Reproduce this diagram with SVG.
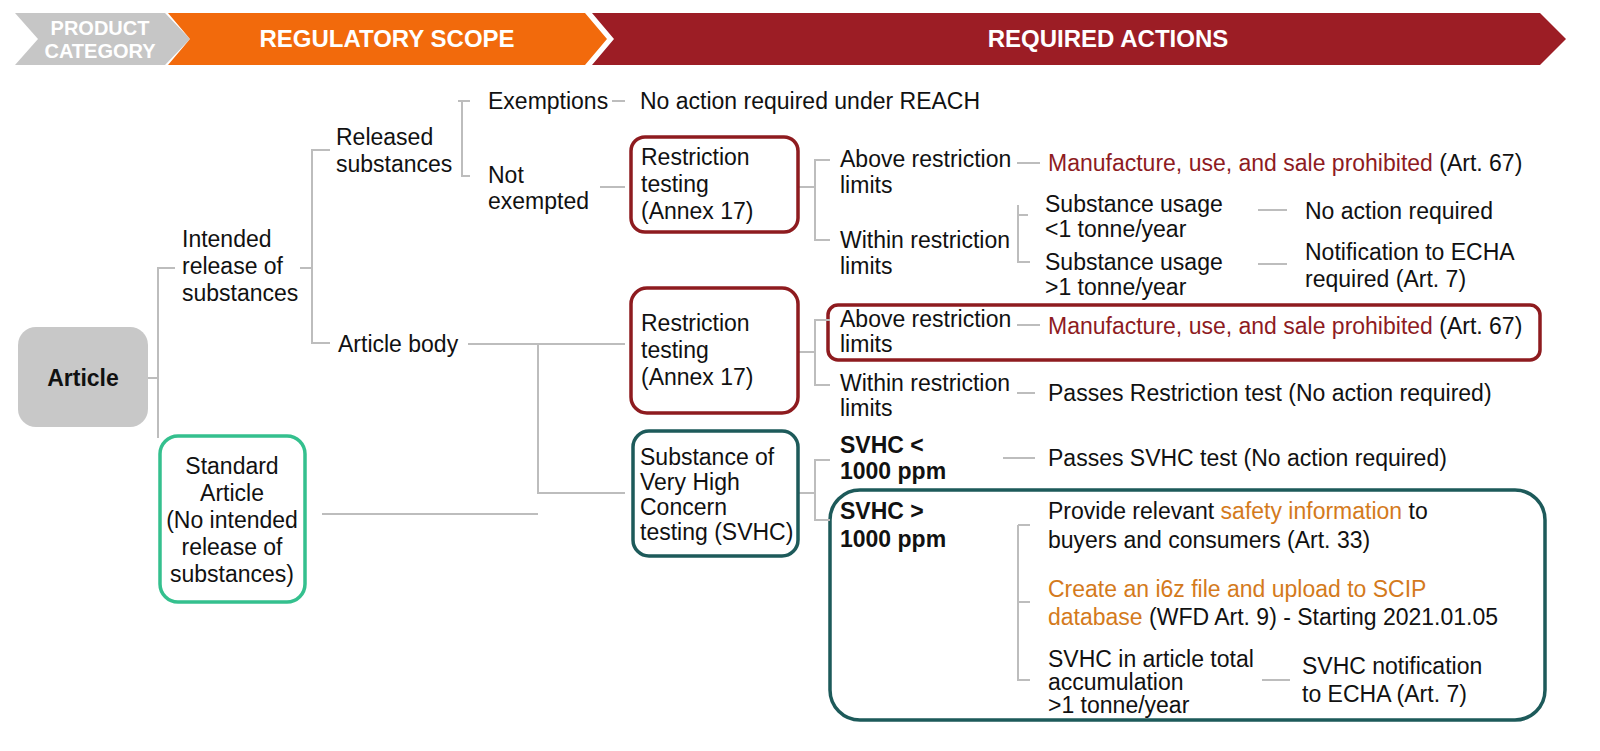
<svg xmlns="http://www.w3.org/2000/svg" width="1600" height="751" viewBox="0 0 1600 751">
<style>
text{font-family:"Liberation Sans",Arial,sans-serif;font-size:23px;fill:#111}
.hd{font-weight:bold;fill:#fff;font-size:24px;text-anchor:middle}
.c{text-anchor:middle}
.b{font-weight:bold}
.red{fill:#8e1b1f}
.or{fill:#d47a1c}
.ln{stroke:#bdbdbd;stroke-width:2;fill:none}
.rb{fill:#fff;stroke:#8e1b1f;stroke-width:3.5}
.tb{fill:#fff;stroke:#1d5a5a;stroke-width:3.5}
.nf{fill:none}
</style>
<rect width="1600" height="751" fill="#fff"/>
<g id="header">
<polygon points="15,13 165,13 190,39 165,65 15,65 38,39" fill="#c6c6c6"/>
<polygon points="168,13 585,13 607,39 585,65 168,65 190,39" fill="#f26a0c"/>
<polygon points="592,13 1540,13 1566,39 1540,65 592,65 614,39" fill="#9c1d25"/>
<text class="hd" x="100" y="35" style="font-size:20px">PRODUCT</text>
<text class="hd" x="100" y="58" style="font-size:20px">CATEGORY</text>
<text class="hd" x="387" y="47">REGULATORY SCOPE</text>
<text class="hd" x="1108" y="47">REQUIRED ACTIONS</text>
</g>
<g id="n-above2box"><rect class="rb nf" x="828" y="305" width="712" height="55" rx="10"/></g>
<g id="n-gtbox"><rect class="tb nf" x="830" y="490" width="715" height="230" rx="30"/></g>
<g id="connectors">
<path class="ln" d="M148,378H158M175,268H158V438M300,268H312M330,150H312V343H330M458,101H462M470,101H462V176H470M612,101H625M600,187H625M798,187H815M830,160H815V240H830M1017,163H1040M1018,215H1028M1018,205V262H1030M1258,210H1287M1258,264H1287M468,344H538V493H625M538,344H625M322,514H538M798,352H815M830,320H815V385H830M1017,325H1040M1017,393H1035M798,493H815M830,460H815V520H830M1003,458H1035M1018,525V680H1030M1018,525H1030M1018,602H1030M1262,680H1290"/>
</g>
<g id="n-article"><rect x="18" y="327" width="130" height="100" rx="18" fill="#c8c8c8"/><text class="c b" x="83" y="386">Article</text></g>
<g id="n-intended"><text x="182" y="247">Intended</text><text x="182" y="274">release of</text><text x="182" y="301">substances</text></g>
<g id="n-standard"><rect x="160" y="436" width="145" height="166" rx="18" fill="#fff" stroke="#34c08e" stroke-width="3.5"/><text class="c" x="232" y="474">Standard</text><text class="c" x="232" y="501">Article</text><text class="c" x="232" y="528">(No intended</text><text class="c" x="232" y="555">release of</text><text class="c" x="232" y="582">substances)</text></g>
<g id="n-released"><text x="336" y="145">Released</text><text x="336" y="172">substances</text></g>
<g id="n-body"><text x="338" y="352">Article body</text></g>
<g id="n-exempt"><text x="488" y="109">Exemptions</text></g>
<g id="n-noreach"><text x="640" y="109">No action required under REACH</text></g>
<g id="n-notex"><text x="488" y="183">Not</text><text x="488" y="209">exempted</text></g>
<g id="n-rt1"><rect class="rb" x="631" y="137" width="167" height="95" rx="14"/><text x="641" y="165">Restriction</text><text x="641" y="192">testing</text><text x="641" y="219">(Annex 17)</text></g>
<g id="n-above1"><text x="840" y="167">Above restriction</text><text x="840" y="193">limits</text></g>
<g id="n-within1"><text x="840" y="248">Within restriction</text><text x="840" y="274">limits</text></g>
<g id="n-prohib1"><text x="1048" y="171"><tspan class="red">Manufacture, use, and sale prohibited</tspan> (Art. 67)</text></g>
<g id="n-su1"><text x="1045" y="212">Substance usage</text><text x="1045" y="237">&lt;1 tonne/year</text></g>
<g id="n-su2"><text x="1045" y="270">Substance usage</text><text x="1045" y="295">&gt;1 tonne/year</text></g>
<g id="n-noact"><text x="1305" y="219">No action required</text></g>
<g id="n-notif"><text x="1305" y="260">Notification to ECHA</text><text x="1305" y="287">required (Art. 7)</text></g>
<g id="n-rt2"><rect class="rb" x="631" y="288" width="167" height="125" rx="16"/><text x="641" y="331">Restriction</text><text x="641" y="358">testing</text><text x="641" y="385">(Annex 17)</text></g>
<g id="n-above2"><text x="840" y="327">Above restriction</text><text x="840" y="352">limits</text><text x="1048" y="334"><tspan class="red">Manufacture, use, and sale prohibited</tspan> (Art. 67)</text></g>
<g id="n-within2"><text x="840" y="391">Within restriction</text><text x="840" y="416">limits</text></g>
<g id="n-pass1"><text x="1048" y="401">Passes Restriction test (No action required)</text></g>
<g id="n-svhc"><rect class="tb" x="633" y="431" width="165" height="125" rx="16"/><text x="640" y="465">Substance of</text><text x="640" y="490">Very High</text><text x="640" y="515">Concern</text><text x="640" y="540">testing (SVHC)</text></g>
<g id="n-lt"><text class="b" x="840" y="453">SVHC &lt;</text><text class="b" x="840" y="479">1000 ppm</text></g>
<g id="n-pass2"><text x="1048" y="466">Passes SVHC test (No action required)</text></g>
<g id="n-gt"><text class="b" x="840" y="519">SVHC &gt;</text><text class="b" x="840" y="547">1000 ppm</text></g>
<g id="n-safety"><text x="1048" y="519">Provide relevant <tspan class="or">safety information</tspan> to</text><text x="1048" y="548">buyers and consumers (Art. 33)</text></g>
<g id="n-scip"><text x="1048" y="597" class="or">Create an i6z file and upload to SCIP</text><text x="1048" y="625"><tspan class="or">database</tspan> (WFD Art. 9) - Starting 2021.01.05</text></g>
<g id="n-accum"><text x="1048" y="667">SVHC in article total</text><text x="1048" y="690">accumulation</text><text x="1048" y="713">&gt;1 tonne/year</text></g>
<g id="n-svhcnot"><text x="1302" y="674">SVHC notification</text><text x="1302" y="702">to ECHA (Art. 7)</text></g>
</svg>
